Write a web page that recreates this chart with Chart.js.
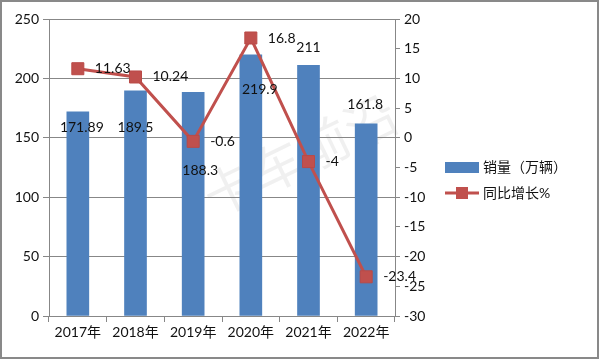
<!DOCTYPE html>
<html>
<head>
<meta charset="utf-8">
<script src="https://cdn.jsdelivr.net/npm/chart.js@4/dist/chart.umd.min.js"></script>
<style>
html,body{margin:0;padding:0;background:#fff;}
#wrap{width:600px;height:360px;position:relative;}
</style>
</head>
<body>
<div id="wrap"><canvas id="c" width="600" height="360"></canvas></div>
<script>
const categories = ['2017年','2018年','2019年','2020年','2021年','2022年'];
const salesValues = [171.89, 189.5, 188.3, 219.9, 211, 161.8];
const growthValues = [11.63, 10.24, -0.6, 16.8, -4, -23.4];
const seriesNames = ['销量（万辆）', '同比增长%'];
const watermarkText = '卡车前沿';

const FONT = 'Lato, "Noto Sans CJK SC", sans-serif';
const BAR_COLOR = '#4F81BD';
const LINE_COLOR = '#C0504D';
const GRID = '#878787';

// pixel offsets of bar value labels relative to bar top centre (style, not data)
const barLabelOffsets = [[4,16],[0,37],[7,78],[9,35],[0,-18],[-1,-19]];

const labelPlugin = {
  id: 'valueLabels',
  afterDatasetsDraw(chart) {
    const ctx = chart.ctx;
    ctx.save();
    ctx.font = '14px ' + FONT;
    ctx.fillStyle = '#111';
    ctx.textBaseline = 'middle';
    const barMeta = chart.getDatasetMeta(0);
    barMeta.data.forEach((el, i) => {
      const o = barLabelOffsets[i];
      ctx.textAlign = 'center';
      ctx.fillText(String(salesValues[i]), el.x + o[0], el.y + o[1]);
    });
    const lineMeta = chart.getDatasetMeta(1);
    lineMeta.data.forEach((el, i) => {
      ctx.textAlign = 'left';
      ctx.fillText(String(growthValues[i]), el.x + 17, el.y);
    });
    ctx.restore();
  }
};

const decorPlugin = {
  id: 'decor',
  beforeDraw(chart) {
    const ctx = chart.ctx;
    ctx.save();
    ctx.fillStyle = '#fff';
    ctx.fillRect(0, 0, chart.width, chart.height);
    // watermark
    ctx.translate(300, 155);
    ctx.rotate(-0.45);
    ctx.font = '52px "Noto Sans CJK SC", sans-serif';
    ctx.fillStyle = 'rgba(0,0,0,0.06)';
    ctx.textAlign = 'center';
    ctx.textBaseline = 'middle';
    ctx.fillText(watermarkText, 0, 0);
    ctx.restore();
  },
  afterDraw(chart) {
    const ctx = chart.ctx;
    ctx.save();
    // legend
    ctx.fillStyle = BAR_COLOR;
    ctx.fillRect(445, 162, 34, 11);
    ctx.strokeStyle = LINE_COLOR;
    ctx.lineWidth = 3;
    ctx.beginPath();
    ctx.moveTo(445, 193);
    ctx.lineTo(479, 193);
    ctx.stroke();
    ctx.fillStyle = LINE_COLOR;
    ctx.fillRect(456, 187, 12, 12);
    ctx.fillStyle = '#111';
    ctx.font = '14px ' + FONT;
    ctx.textAlign = 'left';
    ctx.textBaseline = 'middle';
    ctx.fillText(seriesNames[0], 483, 167);
    ctx.fillText(seriesNames[1], 483, 193);
    // outer border
    ctx.strokeStyle = '#898989';
    ctx.lineWidth = 2;
    ctx.strokeRect(1, 1, 597, 357);
    ctx.restore();
  }
};

new Chart(document.getElementById('c'), {
  data: {
    labels: categories,
    datasets: [
      {
        type: 'bar',
        label: seriesNames[0],
        data: salesValues,
        backgroundColor: BAR_COLOR,
        barThickness: 22,
        yAxisID: 'y',
        order: 2
      },
      {
        type: 'line',
        label: seriesNames[1],
        data: growthValues,
        borderColor: LINE_COLOR,
        borderWidth: 3,
        pointStyle: 'rect',
        pointRadius: 8.5,
        pointBackgroundColor: LINE_COLOR,
        pointBorderColor: '#B94A47',
        pointBorderWidth: 1,
        tension: 0,
        yAxisID: 'y1',
        order: 1
      }
    ]
  },
  options: {
    responsive: false,
    devicePixelRatio: 1,
    animation: false,
    layout: { padding: { top: 19, left: 0, right: 0, bottom: 0 } },
    plugins: { legend: { display: false }, tooltip: { enabled: false } },
    scales: {
      x: {
        grid: { display: true, drawOnChartArea: false, drawTicks: true, tickLength: 6, color: GRID, offset: true },
        border: { display: true, color: GRID, width: 1 },
        ticks: { color: '#111', font: { family: FONT, size: 14 }, padding: 2, maxRotation: 0 },
        afterFit(s) { s.height = 44; }
      },
      y: {
        position: 'left',
        min: 0, max: 250,
        grid: { color: GRID, drawTicks: true, tickLength: 6 },
        border: { display: true, color: GRID },
        ticks: { stepSize: 50, color: '#111', font: { family: FONT, size: 14 }, padding: 4 },
        afterFit(s) { s.width = 49; }
      },
      y1: {
        position: 'right',
        min: -30, max: 20,
        grid: { drawOnChartArea: false, drawTicks: true, tickLength: 5, color: GRID },
        border: { display: true, color: GRID },
        ticks: { stepSize: 5, color: '#111', font: { family: FONT, size: 14 }, padding: 4 },
        afterFit(s) { s.width = 205; }
      }
    }
  },
  plugins: [decorPlugin, labelPlugin]
});
</script>
</body>
</html>
